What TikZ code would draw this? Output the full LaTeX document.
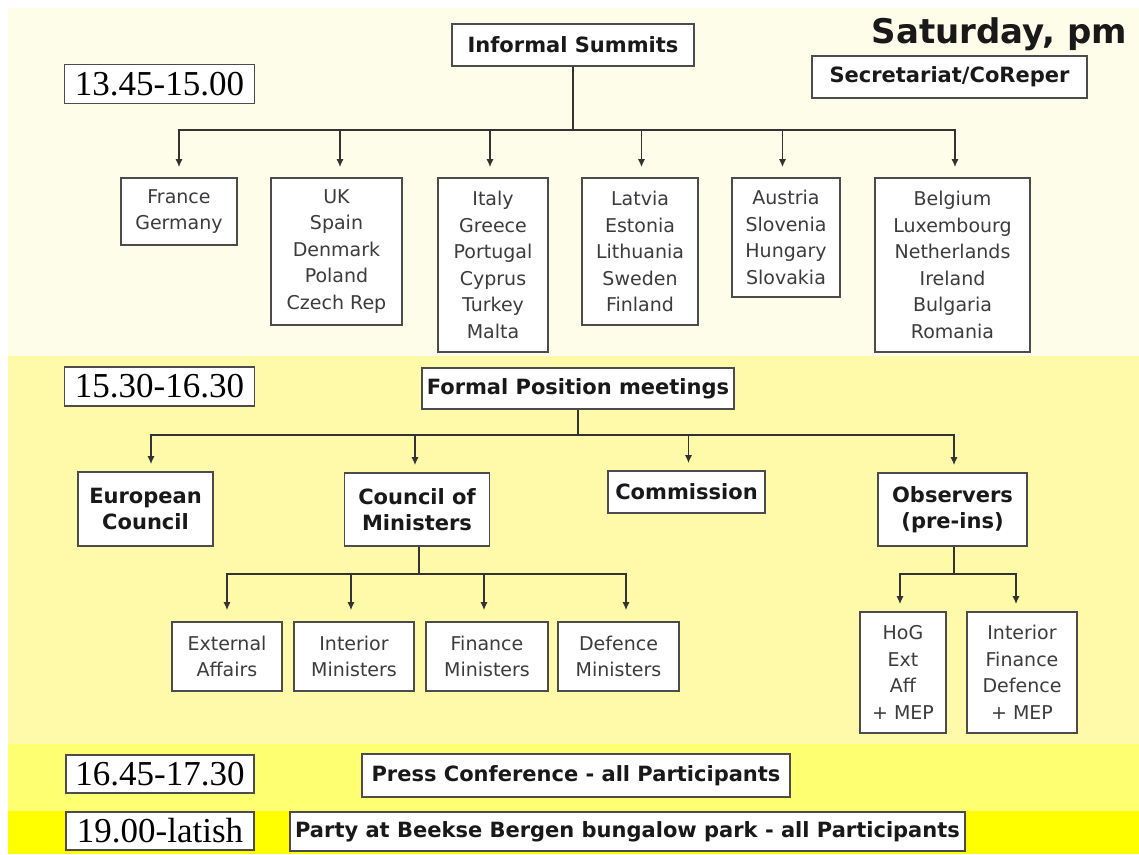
\documentclass[tikz,border=0pt]{standalone}
\usepackage{fontspec}
\setmainfont{DejaVu Sans}
\newfontfamily\timefont{Liberation Serif}
\usetikzlibrary{arrows.meta}
\definecolor{bandA}{HTML}{FEFDEA}
\definecolor{bandB}{HTML}{FFFAAA}
\definecolor{bandC}{HTML}{FFFF72}
\definecolor{bandD}{HTML}{FFFF00}
\definecolor{boxline}{HTML}{4C4C4C}
\definecolor{connline}{HTML}{333333}
\definecolor{listtext}{HTML}{3C3C3C}
\begin{document}
\begin{tikzpicture}[x=1pt,y=-1pt,
  box/.style={draw=boxline, line width=1.6pt, fill=white, inner sep=2pt, align=center},
  timebox/.style={box, minimum width=190, minimum height=39,
    font=\timefont\fontsize{35}{38}\selectfont, text=black},
  headbox/.style={box, font=\bfseries\fontsize{21}{26}\selectfont, text=black!90},
  listbox/.style={box, font=\fontsize{19}{26.5}\selectfont, text=listtext},
  conn/.style={draw=connline, line width=1.4pt},
  arr/.style={conn, -{Latex[length=8pt,width=7pt]}}
]
\useasboundingbox (0,0) rectangle (1139,854);

% background bands, one per time slot
\fill[white] (0,0) rectangle (1139,854);
\fill[bandA] (8,8) rectangle (1139,356);
\fill[bandB] (8,356) rectangle (1139,744);
\fill[bandC] (8,744) rectangle (1139,811);
\fill[bandD] (8,811) rectangle (1139,854);

% title
\node[anchor=base east, inner sep=0, font=\bfseries\fontsize{34}{38}\selectfont, text=black!90]
  (title) at (1127,43) {Saturday, pm};

% ---- 13.45-15.00 : informal summits
\node[timebox] (t1) at (159.5,84) {13.45-15.00};
\node[headbox, minimum width=242, minimum height=42] (is) at (573,45) {Informal Summits};
\node[headbox, minimum width=275, minimum height=42] (sec) at (949.5,77) {Secretariat/CoReper};

\node[listbox, minimum width=116, minimum height=67]  (fr) at (179,211.5) {France\\Germany};
\node[listbox, minimum width=131, minimum height=147] (uk) at (336.5,251.5) {UK\\Spain\\Denmark\\Poland\\Czech Rep};
\node[listbox, minimum width=110, minimum height=174] (it) at (493,265) {Italy\\Greece\\Portugal\\Cyprus\\Turkey\\Malta};
\node[listbox, minimum width=116, minimum height=147] (lv) at (640,251.5) {Latvia\\Estonia\\Lithuania\\Sweden\\Finland};
\node[listbox, minimum width=108, minimum height=119] (au) at (786,237.5) {Austria\\Slovenia\\Hungary\\Slovakia};
\node[listbox, minimum width=155, minimum height=174] (be) at (952.5,265) {Belgium\\Luxembourg\\Netherlands\\Ireland\\Bulgaria\\Romania};

\coordinate (b1) at (573,130);
\draw[conn] (is.south) -- (b1);
\begin{scope}[shorten >=10pt]
\draw[arr] (b1) -| (fr.north);
\draw[arr] (b1) -| ([xshift=3.5pt]uk.north);
\draw[arr] (b1) -| ([xshift=-3pt]it.north);
\draw[arr] (b1) -| ([xshift=1.5pt]lv.north);
\draw[arr] (b1) -| ([xshift=-3.5pt]au.north);
\draw[arr] (b1) -| ([xshift=2.5pt]be.north);
\end{scope}

% ---- 15.30-16.30 : formal position meetings
\node[timebox] (t2) at (159.5,386.5) {15.30-16.30};
\node[headbox, minimum width=312, minimum height=41] (fp) at (578,388.5) {Formal Position meetings};

\node[headbox, minimum width=135, minimum height=74] (ec) at (145.5,509) {European\\Council};
\node[headbox, minimum width=145, minimum height=73] (cm) at (417,509.5) {Council of\\Ministers};
\node[headbox, minimum width=157, minimum height=42] (co) at (686.5,492) {Commission};
\node[headbox, minimum width=149, minimum height=73] (ob) at (952.5,509.5) {Observers\\(pre-ins)};

\coordinate (b2) at (578,435);
\draw[conn] (fp.south) -- (b2);
\begin{scope}[shorten >=7pt]
\draw[arr] (b2) -| ([xshift=5.5pt]ec.north);
\draw[arr] (b2) -| ([xshift=-2pt]cm.north);
\draw[arr] (b2) -| ([xshift=2pt]co.north);
\draw[arr] (b2) -| ([xshift=1.5pt]ob.north);
\end{scope}

% ministers under the Council
\node[listbox, minimum width=110, minimum height=69] (ea) at (227,656.5) {External\\Affairs};
\node[listbox, minimum width=120, minimum height=69] (im) at (354,656.5) {Interior\\Ministers};
\node[listbox, minimum width=122, minimum height=69] (fm) at (487,656.5) {Finance\\Ministers};
\node[listbox, minimum width=121, minimum height=69] (dm) at (618.5,656.5) {Defence\\Ministers};

\coordinate (b3) at (419,574);
\draw[conn] ([xshift=2pt]cm.south) -- (b3);
\begin{scope}[shorten >=11pt]
\draw[arr] (b3) -| (ea.north);
\draw[arr] (b3) -| ([xshift=-3pt]im.north);
\draw[arr] (b3) -| ([xshift=-3pt]fm.north);
\draw[arr] (b3) -| ([xshift=7.5pt]dm.north);
\end{scope}

% observer delegations
\node[listbox, minimum width=86, minimum height=121]  (hg) at (903,672.5) {HoG\\Ext\\Aff\\+ MEP};
\node[listbox, minimum width=110, minimum height=121] (ifd) at (1022,672.5) {Interior\\Finance\\Defence\\+ MEP};

\coordinate (b4) at (954,574);
\draw[conn] ([xshift=1.5pt]ob.south) -- (b4);
\begin{scope}[shorten >=7pt]
\draw[arr] (b4) -| ([xshift=-3pt]hg.north);
\draw[arr] (b4) -| ([xshift=-6pt]ifd.north);
\end{scope}

% ---- 16.45-17.30 and evening
\node[timebox, minimum width=188, minimum height=38] (t3) at (160,774) {16.45-17.30};
\node[headbox, minimum width=428, minimum height=43] (pc) at (576,775.5) {Press Conference - all Participants};

\node[timebox, minimum width=188, minimum height=38] (t4) at (160,831) {19.00-latish};
\node[headbox, minimum width=675, minimum height=39] (pa) at (627.5,831.5) {Party at Beekse Bergen bungalow park - all Participants};
\end{tikzpicture}
\end{document}
